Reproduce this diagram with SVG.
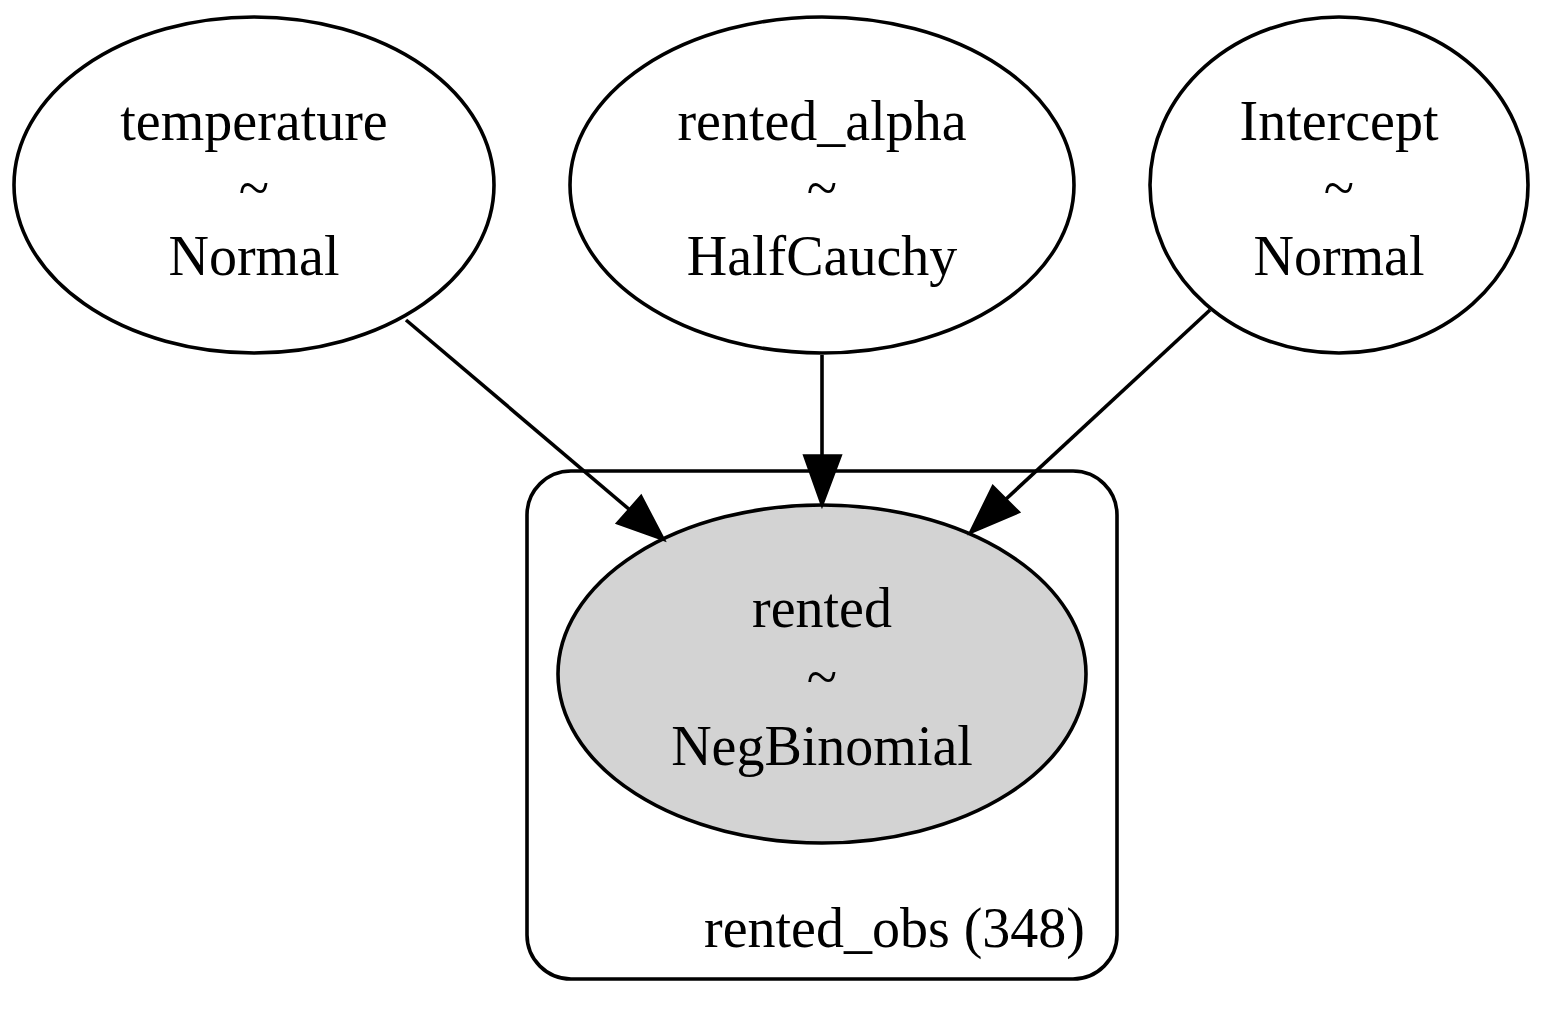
<svg xmlns="http://www.w3.org/2000/svg" width="1545" height="1030" viewBox="0 0 1545 1030">
<style>
.n{fill:#fff;stroke:#000;stroke-width:3.6}
.obs{fill:#d3d3d3;stroke:#000;stroke-width:3.6}
.c{fill:none;stroke:#000;stroke-width:3.6}
text{font-family:"Liberation Serif","Times New Roman",serif;font-size:56px;fill:#000}
.m{text-anchor:middle}
.e{stroke:#000;stroke-width:3.6;fill:none}
.h{fill:#000;stroke:#000;stroke-width:3.6}
</style>
<rect width="1545" height="1030" fill="#fff"/>
<g id="cluster_rented_obs">
<rect class="c" x="527" y="471" width="590" height="508" rx="44" ry="44"/>
<text x="1085" y="947" text-anchor="end">rented_obs (348)</text>
</g>
<g id="temperature">
<ellipse class="n" cx="254" cy="185" rx="240" ry="168"/>
<text class="m" x="254" y="140">temperature</text>
<text class="m" x="254" y="207">~</text>
<text class="m" x="254" y="275">Normal</text>
</g>
<g id="rented_alpha">
<ellipse class="n" cx="822" cy="185" rx="252" ry="168"/>
<text class="m" x="822" y="140">rented_alpha</text>
<text class="m" x="822" y="207">~</text>
<text class="m" x="822" y="275">HalfCauchy</text>
</g>
<g id="Intercept">
<ellipse class="n" cx="1339" cy="185" rx="189" ry="168"/>
<text class="m" x="1339" y="140">Intercept</text>
<text class="m" x="1339" y="207">~</text>
<text class="m" x="1339" y="275">Normal</text>
</g>
<g id="rented">
<ellipse class="obs" cx="822" cy="674" rx="264" ry="169"/>
<text class="m" x="822" y="627">rented</text>
<text class="m" x="822" y="696">~</text>
<text class="m" x="822" y="765">NegBinomial</text>
</g>
<g id="edges">
<path class="e" d="M406,320 L630,510"/>
<polygon class="h" points="618,523 641,497 663,539"/>
<path class="e" d="M822,355 L822,456"/>
<polygon class="h" points="805,456 840,456 822,504"/>
<path class="e" d="M1210,310 L1005,500"/>
<polygon class="h" points="993,487 1018,512 971,532"/>
</g>
</svg>
